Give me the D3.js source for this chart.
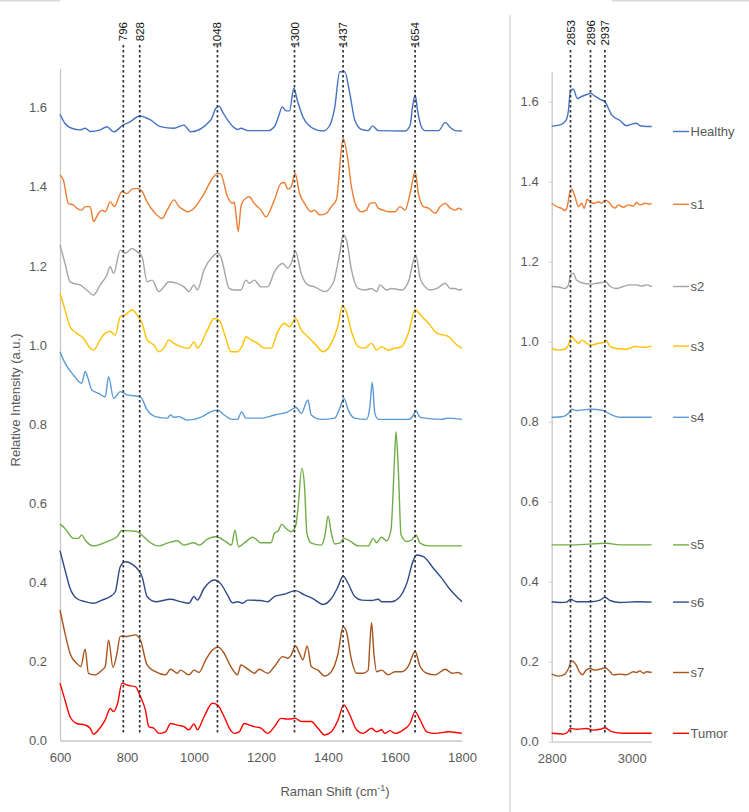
<!DOCTYPE html>
<html><head><meta charset="utf-8">
<script src="https://cdn.jsdelivr.net/npm/d3@7/dist/d3.min.js"></script>
<style>
html,body{margin:0;padding:0;background:#fff;}
svg{display:block;font-family:"Liberation Sans",Arial,Helvetica,sans-serif;}
</style></head>
<body><svg id="chart" width="749" height="812"></svg>
<script>
// ---------- DATA ----------
const seriesNames = ["Healthy","s1","s2","s3","s4","s5","s6","s7","Tumor"];
const seriesColors = ["#4472C4","#ED7D31","#A5A5A5","#FFC000","#5B9BD5","#70AD47","#2F4C85","#A8541C","#FF0000"];

const peakLabelsLeft = ["796","828","1048","1300","1437","1654"];
const peakPosLeft = [789, 838, 1070, 1300, 1445, 1660];
const peakLabelsRight = ["2853","2896","2937"];
const peakPosRight = [2847, 2897, 2933];

const xTicksLeft = [600,800,1000,1200,1400,1600,1800];
const xTicksRight = [2800,3000];
const yTicks = [0,0.2,0.4,0.6,0.8,1.0,1.2,1.4,1.6];

const healthyLeft = [[600,1.584],[615,1.560],[635,1.548],[660,1.544],[675,1.548],[690,1.540],[720,1.544],[740,1.552],[760,1.539],[788,1.556],[810,1.565],[838,1.579],[870,1.569],[900,1.552],[940,1.548],[970,1.556],[990,1.539],[1050,1.569],[1065,1.598],[1075,1.604],[1085,1.590],[1100,1.569],[1130,1.545],[1140,1.548],[1160,1.542],[1220,1.542],[1240,1.552],[1255,1.585],[1263,1.602],[1275,1.592],[1285,1.592],[1298,1.649],[1308,1.620],[1325,1.577],[1355,1.548],[1385,1.541],[1405,1.555],[1420,1.600],[1435,1.691],[1450,1.691],[1465,1.636],[1480,1.569],[1500,1.545],[1520,1.542],[1533,1.554],[1550,1.542],[1630,1.541],[1645,1.555],[1652,1.600],[1660,1.632],[1668,1.590],[1678,1.553],[1690,1.542],[1730,1.542],[1750,1.563],[1765,1.550],[1780,1.542],[1800,1.541]];
const s1Left = [[600,1.430],[610,1.417],[625,1.358],[640,1.354],[650,1.346],[665,1.341],[675,1.350],[690,1.350],[700,1.312],[715,1.333],[725,1.341],[735,1.337],[750,1.362],[762,1.350],[785,1.388],[800,1.383],[815,1.394],[830,1.396],[845,1.388],[860,1.362],[880,1.337],[905,1.320],[920,1.341],[940,1.367],[955,1.350],[970,1.341],[980,1.337],[1000,1.346],[1030,1.383],[1055,1.421],[1070,1.434],[1080,1.432],[1100,1.375],[1115,1.358],[1120,1.362],[1125,1.333],[1132,1.287],[1140,1.350],[1145,1.362],[1155,1.371],[1165,1.375],[1180,1.358],[1200,1.341],[1215,1.324],[1240,1.367],[1260,1.409],[1270,1.411],[1280,1.394],[1290,1.400],[1302,1.434],[1315,1.383],[1330,1.358],[1350,1.337],[1360,1.341],[1375,1.329],[1395,1.333],[1410,1.350],[1425,1.367],[1445,1.522],[1458,1.476],[1470,1.400],[1485,1.350],[1500,1.337],[1515,1.341],[1525,1.358],[1540,1.360],[1550,1.346],[1565,1.341],[1580,1.337],[1600,1.337],[1615,1.350],[1630,1.341],[1645,1.383],[1660,1.438],[1670,1.383],[1685,1.350],[1700,1.346],[1720,1.333],[1735,1.350],[1750,1.358],[1765,1.346],[1780,1.341],[1790,1.346],[1800,1.341]];
const s2Left = [[600,1.253],[615,1.206],[630,1.160],[640,1.156],[660,1.152],[680,1.139],[700,1.126],[720,1.152],[740,1.177],[750,1.198],[760,1.181],[780,1.240],[795,1.232],[815,1.244],[830,1.236],[845,1.223],[860,1.160],[875,1.164],[895,1.135],[910,1.147],[925,1.160],[950,1.156],[970,1.147],[985,1.135],[1000,1.152],[1010,1.139],[1030,1.190],[1055,1.223],[1070,1.232],[1080,1.223],[1105,1.143],[1120,1.139],[1140,1.139],[1155,1.164],[1165,1.156],[1180,1.164],[1200,1.147],[1220,1.147],[1240,1.185],[1265,1.206],[1280,1.194],[1290,1.206],[1303,1.236],[1320,1.181],[1340,1.152],[1360,1.147],[1390,1.135],[1415,1.156],[1435,1.232],[1445,1.278],[1455,1.266],[1470,1.190],[1490,1.143],[1510,1.139],[1530,1.143],[1545,1.135],[1555,1.152],[1575,1.139],[1590,1.143],[1620,1.139],[1640,1.160],[1662,1.228],[1675,1.169],[1690,1.147],[1705,1.139],[1725,1.143],[1750,1.156],[1765,1.143],[1780,1.143],[1790,1.139],[1800,1.141]];
const s3Left = [[600,1.131],[615,1.089],[630,1.046],[650,1.030],[670,1.017],[690,0.992],[700,0.987],[720,1.013],[735,1.030],[750,1.034],[765,1.025],[780,1.072],[795,1.076],[815,1.089],[830,1.076],[845,1.055],[860,1.013],[880,1.000],[895,0.983],[910,0.992],[925,1.013],[940,1.004],[960,0.996],[985,0.992],[1000,1.008],[1010,0.992],[1040,1.038],[1060,1.067],[1075,1.063],[1095,1.017],[1110,0.983],[1130,0.983],[1145,1.000],[1155,1.021],[1170,1.013],[1190,1.004],[1210,0.992],[1230,0.992],[1250,1.034],[1270,1.055],[1285,1.046],[1303,1.067],[1320,1.038],[1340,1.021],[1360,1.004],[1385,0.983],[1410,1.004],[1430,1.050],[1443,1.099],[1455,1.084],[1470,1.034],[1490,0.996],[1510,0.992],[1530,1.004],[1545,0.987],[1560,0.996],[1580,0.987],[1600,0.992],[1620,0.996],[1640,1.030],[1660,1.089],[1680,1.072],[1700,1.055],[1725,1.030],[1760,1.021],[1785,1.000],[1800,0.992]];
const s4Left = [[600,0.983],[615,0.954],[640,0.924],[665,0.903],[675,0.933],[685,0.912],[695,0.886],[715,0.878],[735,0.869],[745,0.920],[760,0.865],[780,0.882],[800,0.874],[840,0.869],[860,0.836],[885,0.819],[920,0.815],[930,0.823],[940,0.817],[955,0.819],[980,0.810],[1020,0.817],[1050,0.831],[1070,0.836],[1090,0.823],[1115,0.812],[1130,0.812],[1142,0.831],[1155,0.815],[1200,0.815],[1240,0.823],[1280,0.831],[1290,0.836],[1305,0.842],[1320,0.827],[1340,0.861],[1350,0.823],[1380,0.812],[1420,0.815],[1435,0.840],[1448,0.865],[1460,0.836],[1480,0.815],[1515,0.812],[1525,0.844],[1532,0.905],[1540,0.827],[1550,0.812],[1640,0.812],[1655,0.823],[1662,0.834],[1675,0.817],[1740,0.812],[1755,0.815],[1800,0.812]];
const s5Left = [[600,0.547],[615,0.536],[640,0.511],[655,0.511],[665,0.520],[675,0.507],[700,0.492],[740,0.503],[770,0.515],[785,0.531],[810,0.530],[830,0.528],[850,0.515],[870,0.500],[895,0.492],[920,0.499],[950,0.505],[970,0.494],[1000,0.500],[1015,0.494],[1040,0.509],[1065,0.515],[1095,0.503],[1112,0.494],[1122,0.532],[1133,0.490],[1150,0.499],[1175,0.514],[1200,0.500],[1230,0.500],[1240,0.524],[1252,0.531],[1262,0.547],[1275,0.536],[1290,0.528],[1303,0.541],[1310,0.583],[1322,0.688],[1330,0.642],[1337,0.524],[1350,0.499],[1380,0.494],[1392,0.524],[1400,0.568],[1410,0.524],[1420,0.497],[1435,0.499],[1448,0.511],[1465,0.505],[1490,0.492],[1520,0.492],[1535,0.511],[1545,0.500],[1560,0.514],[1575,0.505],[1588,0.532],[1598,0.701],[1603,0.781],[1610,0.684],[1618,0.520],[1635,0.503],[1650,0.507],[1662,0.520],[1675,0.499],[1700,0.492],[1800,0.492]];
const s6Left = [[600,0.480],[615,0.431],[630,0.385],[650,0.359],[675,0.351],[700,0.347],[725,0.355],[750,0.364],[765,0.376],[780,0.440],[795,0.452],[815,0.446],[830,0.435],[845,0.414],[860,0.364],[885,0.351],[930,0.357],[960,0.351],[985,0.347],[1000,0.364],[1010,0.355],[1030,0.385],[1060,0.406],[1080,0.396],[1100,0.368],[1115,0.348],[1130,0.351],[1145,0.347],[1160,0.355],[1200,0.354],[1220,0.351],[1240,0.364],[1270,0.370],[1303,0.379],[1330,0.368],[1355,0.359],[1385,0.344],[1410,0.359],[1430,0.389],[1445,0.416],[1460,0.397],[1480,0.364],[1500,0.355],[1530,0.354],[1550,0.357],[1560,0.351],[1590,0.351],[1610,0.359],[1635,0.397],[1655,0.456],[1665,0.469],[1685,0.465],[1715,0.435],[1740,0.410],[1765,0.381],[1790,0.359],[1800,0.351]];
const s7Left = [[600,0.330],[615,0.271],[630,0.220],[650,0.195],[662,0.187],[675,0.231],[685,0.170],[705,0.166],[720,0.174],[735,0.187],[745,0.254],[758,0.185],[770,0.220],[780,0.264],[800,0.263],[825,0.267],[840,0.254],[860,0.191],[885,0.174],[915,0.166],[930,0.180],[950,0.170],[960,0.178],[985,0.166],[1000,0.178],[1015,0.172],[1035,0.204],[1055,0.229],[1072,0.236],[1085,0.227],[1110,0.187],[1130,0.166],[1140,0.191],[1150,0.187],[1165,0.178],[1180,0.170],[1195,0.180],[1220,0.170],[1240,0.187],[1265,0.212],[1280,0.208],[1290,0.216],[1303,0.239],[1315,0.220],[1325,0.204],[1338,0.239],[1350,0.187],[1370,0.178],[1390,0.163],[1410,0.174],[1430,0.220],[1445,0.288],[1455,0.275],[1470,0.204],[1485,0.170],[1505,0.170],[1520,0.178],[1525,0.246],[1530,0.298],[1537,0.220],[1545,0.174],[1560,0.178],[1580,0.166],[1600,0.174],[1620,0.174],[1640,0.188],[1660,0.225],[1675,0.187],[1695,0.170],[1720,0.166],[1750,0.180],[1770,0.170],[1790,0.172],[1800,0.166]];
const tumorLeft = [[600,0.145],[615,0.102],[630,0.060],[650,0.043],[675,0.039],[690,0.031],[700,0.016],[715,0.027],[735,0.052],[750,0.081],[760,0.073],[772,0.094],[785,0.145],[800,0.140],[825,0.136],[840,0.111],[855,0.077],[865,0.035],[880,0.031],[895,0.018],[915,0.022],[930,0.043],[950,0.039],[970,0.035],[985,0.027],[1000,0.042],[1010,0.027],[1030,0.060],[1055,0.094],[1070,0.090],[1090,0.060],[1110,0.025],[1120,0.018],[1135,0.022],[1150,0.043],[1165,0.039],[1180,0.035],[1200,0.031],[1220,0.018],[1240,0.035],[1260,0.056],[1280,0.054],[1303,0.056],[1320,0.048],[1350,0.048],[1370,0.031],[1390,0.014],[1410,0.022],[1430,0.052],[1447,0.090],[1465,0.065],[1485,0.027],[1505,0.018],[1530,0.031],[1545,0.022],[1560,0.027],[1570,0.018],[1585,0.025],[1600,0.018],[1625,0.027],[1645,0.043],[1660,0.073],[1675,0.052],[1695,0.022],[1720,0.018],[1760,0.022],[1800,0.018]];

const healthyRight = [[2800,1.539],[2821,1.542],[2836,1.554],[2842,1.579],[2847,1.629],[2854,1.631],[2864,1.608],[2875,1.613],[2888,1.618],[2897,1.621],[2908,1.614],[2921,1.606],[2933,1.600],[2942,1.583],[2950,1.567],[2971,1.553],[2987,1.540],[3000,1.544],[3011,1.546],[3021,1.540],[3037,1.538],[3050,1.538]];
const s1Right = [[2800,1.346],[2812,1.338],[2825,1.333],[2833,1.328],[2839,1.338],[2844,1.367],[2850,1.381],[2858,1.363],[2867,1.338],[2875,1.346],[2881,1.333],[2889,1.356],[2897,1.348],[2906,1.346],[2917,1.350],[2925,1.346],[2933,1.354],[2942,1.350],[2950,1.339],[2958,1.334],[2967,1.342],[2979,1.336],[2992,1.342],[3004,1.339],[3012,1.348],[3021,1.342],[3033,1.346],[3042,1.344],[3050,1.346]];
const s2Right = [[2800,1.138],[2821,1.136],[2833,1.133],[2842,1.142],[2847,1.167],[2854,1.171],[2862,1.154],[2879,1.146],[2896,1.144],[2912,1.146],[2925,1.148],[2935,1.150],[2946,1.138],[2962,1.133],[2979,1.138],[2996,1.142],[3012,1.142],[3025,1.139],[3037,1.142],[3050,1.138]];
const s3Right = [[2800,0.983],[2817,0.979],[2833,0.981],[2842,0.992],[2850,1.013],[2858,1.004],[2867,0.996],[2877,1.004],[2887,0.996],[2900,0.992],[2917,0.996],[2929,0.998],[2936,1.003],[2946,0.988],[2962,0.983],[2987,0.981],[3008,0.988],[3029,0.986],[3050,0.989]];
const s4Right = [[2800,0.811],[2829,0.813],[2842,0.821],[2850,0.831],[2862,0.828],[2896,0.831],[2929,0.828],[2946,0.819],[2971,0.811],[3012,0.811],[3050,0.811]];
const s5Right = [[2800,0.492],[2854,0.492],[2937,0.496],[2971,0.492],[3050,0.492]];
const s6Right = [[2800,0.350],[2821,0.348],[2837,0.349],[2847,0.356],[2862,0.350],[2896,0.350],[2921,0.354],[2933,0.361],[2946,0.353],[2971,0.348],[3012,0.350],[3050,0.349]];
const s7Right = [[2800,0.169],[2817,0.164],[2833,0.169],[2842,0.183],[2850,0.202],[2861,0.192],[2869,0.175],[2877,0.167],[2886,0.179],[2896,0.183],[2908,0.179],[2921,0.181],[2933,0.185],[2946,0.175],[2954,0.167],[2971,0.169],[2987,0.167],[3004,0.175],[3012,0.173],[3021,0.177],[3029,0.171],[3037,0.175],[3050,0.173]];
const tumorRight = [[2800,0.021],[2829,0.019],[2839,0.023],[2847,0.033],[2862,0.031],[2887,0.033],[2904,0.029],[2921,0.031],[2933,0.035],[2950,0.025],[2979,0.021],[3012,0.021],[3050,0.021]];

const leftData = [healthyLeft,s1Left,s2Left,s3Left,s4Left,s5Left,s6Left,s7Left,tumorLeft];
const rightData = [healthyRight,s1Right,s2Right,s3Right,s4Right,s5Right,s6Right,s7Right,tumorRight];

// ---------- LAYOUT ----------
const svg = d3.select("#chart");
const tickColor = "#595959", axisColor = "#c8c8c8", fontSize = 13;

// frame remnants
svg.append("line").attr("x1",0).attr("x2",60).attr("y1",0.5).attr("y2",0.5).attr("stroke","#d9d9d9").attr("stroke-width",2);
svg.append("line").attr("x1",612).attr("x2",749).attr("y1",0.5).attr("y2",0.5).attr("stroke","#d9d9d9").attr("stroke-width",2);
svg.append("line").attr("x1",510).attr("x2",510).attr("y1",15).attr("y2",812).attr("stroke","#e3e3e3").attr("stroke-width",2);

// scales
const xL = d3.scaleLinear().domain([600,1800]).range([60,462]);
const yL = d3.scaleLinear().domain([0,1.7]).range([740.5, 740.5 - 1.7*395.5]);
const xR = d3.scaleLinear().domain([2800,3050]).range([551.7,651.7]);
const yR = d3.scaleLinear().domain([0,1.675]).range([741.7, 741.7 - 1.675*400]);

function styleAxis(g){
  g.select(".domain").attr("stroke",axisColor).attr("stroke-width",1.3);
  g.selectAll(".tick line").attr("stroke",axisColor);
  g.selectAll(".tick text").attr("fill",tickColor).attr("font-size",fontSize).attr("font-family","Liberation Sans, Arial, sans-serif");
}

// left axes
svg.append("g").attr("transform",`translate(${xL(600)},0)`)
  .call(d3.axisLeft(yL).tickValues(yTicks).tickFormat(d3.format(".1f")).tickSize(0).tickSizeOuter(0).tickPadding(13))
  .call(styleAxis);
svg.append("g").attr("transform",`translate(0,${yL(0)})`)
  .call(d3.axisBottom(xL).tickValues(xTicksLeft).tickFormat(d3.format("d")).tickSize(0).tickSizeOuter(0).tickPadding(12))
  .call(styleAxis);

// right axes
svg.append("g").attr("transform",`translate(${xR(2800)},0)`)
  .call(d3.axisLeft(yR).tickValues(yTicks).tickFormat(d3.format(".1f")).tickSize(3).tickSizeOuter(0).tickPadding(10))
  .call(styleAxis);
svg.append("g").attr("transform",`translate(0,${yR(0)})`)
  .call(d3.axisBottom(xR).tickValues(xTicksRight).tickFormat(d3.format("d")).tickSize(0).tickSizeOuter(0).tickPadding(12))
  .call(styleAxis);

// axis titles
const xt = svg.append("text").attr("x",335).attr("y",796).attr("text-anchor","middle")
  .attr("fill",tickColor).attr("font-size",fontSize);
xt.append("tspan").text("Raman Shift (cm");
xt.append("tspan").attr("font-size",9).attr("dy",-5).text("-1");
xt.append("tspan").attr("dy",5).text(")");
svg.append("text").attr("transform","translate(20,400) rotate(-90)").attr("text-anchor","middle")
  .attr("fill",tickColor).attr("font-size",fontSize).text("Relative Intensity (a.u.)");

// dashed peak lines
function peakLines(xs, positions, labels, yTop, yBottom, labelTop){
  const g = svg.append("g");
  g.selectAll("line").data(positions).join("line")
    .attr("x1",d=>xs(d)).attr("x2",d=>xs(d)).attr("y1",yTop).attr("y2",yBottom)
    .attr("stroke","#333").attr("stroke-width",1.7).attr("stroke-dasharray","2.5,2.5");
  g.selectAll("text").data(positions).join("text")
    .attr("transform",d=>`translate(${xs(d)},${labelTop}) rotate(-90)`)
    .attr("text-anchor","end").attr("dy","0.35em")
    .attr("font-size",11.5).attr("fill","#111")
    .text((d,i)=>labels[i]);
}

// series lines
const lineL = d3.line().x(d=>xL(d[0])).y(d=>yL(d[1])).curve(d3.curveMonotoneX);
const lineR = d3.line().x(d=>xR(d[0])).y(d=>yR(d[1])).curve(d3.curveMonotoneX);

svg.append("g").selectAll("path").data(leftData).join("path")
  .attr("d",lineL).attr("fill","none").attr("stroke",(d,i)=>seriesColors[i]).attr("stroke-width",1.4);
svg.append("g").selectAll("path").data(rightData).join("path")
  .attr("d",lineR).attr("fill","none").attr("stroke",(d,i)=>seriesColors[i]).attr("stroke-width",1.4);

peakLines(xL, peakPosLeft, peakLabelsLeft, 45, 735, 22);
peakLines(xR, peakPosRight, peakLabelsRight, 50, 735, 20);

// legend (aligned with the end level of each right-panel spectrum)
const legendOffsets = [5,1,0,0,0,0,0,0,0];
const lg = svg.append("g");
seriesNames.forEach((name,i)=>{
  const last = rightData[i][rightData[i].length-1][1];
  const y = yR(last) + legendOffsets[i];
  lg.append("line").attr("x1",673).attr("x2",689).attr("y1",y).attr("y2",y)
    .attr("stroke",seriesColors[i]).attr("stroke-width",1.4);
  lg.append("text").attr("x",690.5).attr("y",y).attr("dy","0.35em")
    .attr("font-size",fontSize).attr("fill",tickColor).text(name);
});
</script></body></html>
